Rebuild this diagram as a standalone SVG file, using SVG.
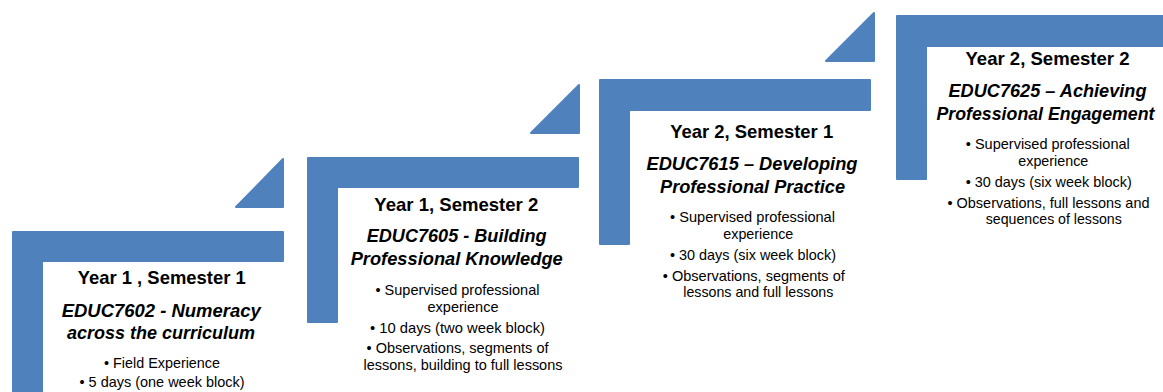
<svg xmlns="http://www.w3.org/2000/svg" width="1163" height="392" viewBox="0 0 1163 392">
<style>
.shape{fill:#4F81BD;stroke:#4F81BD;stroke-width:2;stroke-linejoin:round}
text{font-family:"Liberation Sans",Arial,sans-serif;fill:#000;text-anchor:middle}
.h{font-size:19px;font-weight:bold}
.t{font-size:19px;font-weight:bold;font-style:italic}
.b{font-size:14.5px}
</style>
<rect width="1163" height="392" fill="#fff"/>
<g id="connectors">
<polygon class="shape" points="236,207 283,159 283,207"/>
<polygon class="shape" points="531,133 579,85 579,133"/>
<polygon class="shape" points="826,61 874,13 874,61"/>
</g>
<g id="node1">
<path class="shape" d="M13,232 L283,232 L283,261 L42,261 L42,400 L13,400 Z"/>
<text class="h" x="161.7" y="284" textLength="168" lengthAdjust="spacingAndGlyphs">Year 1 , Semester 1</text>
<text class="t" x="161.2" y="317" textLength="199" lengthAdjust="spacingAndGlyphs">EDUC7602 - Numeracy</text>
<text class="t" x="161" y="339" textLength="188" lengthAdjust="spacingAndGlyphs">across the curriculum</text>
<text class="b" x="162" y="368" textLength="116" lengthAdjust="spacingAndGlyphs">• Field Experience</text>
<text class="b" x="162" y="387" textLength="165" lengthAdjust="spacingAndGlyphs">• 5 days (one week block)</text>
</g>
<g id="node2">
<path class="shape" d="M308,158 L578,158 L578,187 L337,187 L337,322 L308,322 Z"/>
<text class="h" x="456.3" y="211" textLength="164" lengthAdjust="spacingAndGlyphs">Year 1, Semester 2</text>
<text class="t" x="456.7" y="242" textLength="180" lengthAdjust="spacingAndGlyphs">EDUC7605 - Building</text>
<text class="t" x="456.7" y="265" textLength="212" lengthAdjust="spacingAndGlyphs">Professional Knowledge</text>
<text class="b" x="457.5" y="295" textLength="164" lengthAdjust="spacingAndGlyphs">• Supervised professional</text>
<text class="b" x="463" y="312" textLength="71" lengthAdjust="spacingAndGlyphs">experience</text>
<text class="b" x="457.5" y="333" textLength="175" lengthAdjust="spacingAndGlyphs">• 10 days (two week block)</text>
<text class="b" x="457.5" y="353" textLength="182" lengthAdjust="spacingAndGlyphs">• Observations, segments of</text>
<text class="b" x="463" y="370" textLength="199" lengthAdjust="spacingAndGlyphs">lessons, building to full lessons</text>
</g>
<g id="node3">
<path class="shape" d="M600,80 L870,80 L870,110 L629,110 L629,244 L600,244 Z"/>
<text class="h" x="751.7" y="138" textLength="163" lengthAdjust="spacingAndGlyphs">Year 2, Semester 1</text>
<text class="t" x="752" y="170" textLength="211" lengthAdjust="spacingAndGlyphs">EDUC7615 – Developing</text>
<text class="t" x="752.5" y="193" textLength="185" lengthAdjust="spacingAndGlyphs">Professional Practice</text>
<text class="b" x="752.5" y="222" textLength="165" lengthAdjust="spacingAndGlyphs">• Supervised professional</text>
<text class="b" x="758.3" y="238.5" textLength="70" lengthAdjust="spacingAndGlyphs">experience</text>
<text class="b" x="753" y="260" textLength="166" lengthAdjust="spacingAndGlyphs">• 30 days (six week block)</text>
<text class="b" x="753.8" y="281" textLength="182" lengthAdjust="spacingAndGlyphs">• Observations, segments of</text>
<text class="b" x="758.3" y="297" textLength="150" lengthAdjust="spacingAndGlyphs">lessons and full lessons</text>
</g>
<g id="node4">
<path class="shape" d="M897,16 L1170,16 L1170,46 L926,46 L926,179 L897,179 Z"/>
<text class="h" x="1047.5" y="64.5" textLength="164" lengthAdjust="spacingAndGlyphs">Year 2, Semester 2</text>
<text class="t" x="1047.5" y="97" textLength="198" lengthAdjust="spacingAndGlyphs">EDUC7625 – Achieving</text>
<text class="t" x="1045.5" y="120" textLength="218" lengthAdjust="spacingAndGlyphs" style="font-size:18px">Professional Engagement</text>
<text class="b" x="1047.8" y="149" textLength="164" lengthAdjust="spacingAndGlyphs">• Supervised professional</text>
<text class="b" x="1053.3" y="166" textLength="70" lengthAdjust="spacingAndGlyphs">experience</text>
<text class="b" x="1048.7" y="187" textLength="166" lengthAdjust="spacingAndGlyphs">• 30 days (six week block)</text>
<text class="b" x="1048.5" y="207.5" textLength="202" lengthAdjust="spacingAndGlyphs">• Observations, full lessons and</text>
<text class="b" x="1053.8" y="223.5" textLength="136" lengthAdjust="spacingAndGlyphs">sequences of lessons</text>
</g>
</svg>
